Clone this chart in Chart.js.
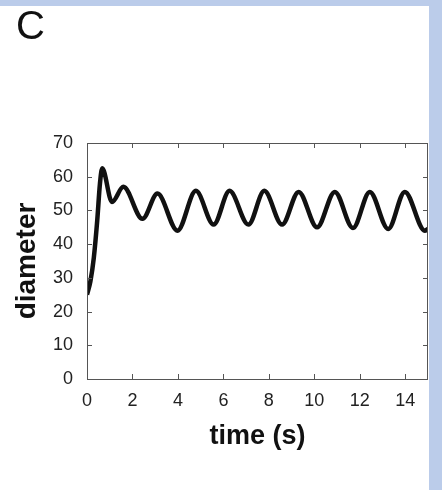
<!DOCTYPE html>
<html>
<head>
<meta charset="utf-8">
<script src="https://cdn.jsdelivr.net/npm/chart.js@4"></script>
<style>
  html, body { margin: 0; padding: 0; background: #ffffff; }
  #wrap { position: relative; width: 442px; height: 490px; background: #ffffff; overflow: hidden; }
  #topband { position: absolute; left: 0; top: 0; width: 442px; height: 6px; background: rgb(187, 204, 234); }
  #rightband { position: absolute; left: 429px; top: 0; width: 13px; height: 490px; background: rgb(187, 204, 234); }
  #panel { position: absolute; left: 16px; top: 5px; font: 40px "Liberation Sans", Arial, sans-serif; line-height: 1; color: #111; }
  canvas { position: absolute; left: 0; top: 0; }
</style>
</head>
<body>
<div id="wrap">
  <canvas id="c" width="442" height="490"></canvas>
  <div id="topband"></div>
  <div id="rightband"></div>
  <div id="panel">C</div>
</div>
<script>
// Data
const times = [0, 0.15, 0.3, 0.45, 0.57, 0.67, 1.1, 1.6, 2.44, 3.1, 3.98, 4.79, 5.57, 6.27, 7.1, 7.8, 8.58, 9.31, 10.12, 10.9, 11.7, 12.44, 13.25, 13.98, 14.86, 15];
const diameter = [25, 29, 36, 47, 58, 62.5, 52.5, 57, 47.5, 55, 44, 55.8, 45.8, 55.8, 45.8, 55.8, 45.8, 55.5, 45, 55.5, 44.8, 55.5, 44.5, 55.5, 44, 44.5];
const xTicks = [0, 2, 4, 6, 8, 10, 12, 14];
const yTicks = [0, 10, 20, 30, 40, 50, 60, 70];
const xTitle = 'time (s)';
const yTitle = 'diameter';

const points = times.map((t, i) => ({ x: t, y: diameter[i] }));

const frameTicks = {
  id: 'frameTicks',
  afterDraw(chart) {
    const { ctx, chartArea: a, scales: { x, y } } = chart;
    ctx.save();
    ctx.strokeStyle = '#555';
    ctx.lineWidth = 1;
    ctx.beginPath();
    ctx.rect(Math.round(a.left) + 0.5, Math.round(a.top) + 0.5, Math.round(a.right - a.left) - 1, Math.round(a.bottom - a.top));
    ctx.stroke();
    const L = 5;
    ctx.beginPath();
    xTicks.forEach(v => {
      const px = Math.round(x.getPixelForValue(v)) + 0.5;
      ctx.moveTo(px, a.bottom); ctx.lineTo(px, a.bottom - L);
      ctx.moveTo(px, a.top); ctx.lineTo(px, a.top + L);
    });
    yTicks.forEach(v => {
      const py = Math.round(y.getPixelForValue(v)) + 0.5;
      ctx.moveTo(a.left, py); ctx.lineTo(a.left + L, py);
      ctx.moveTo(a.right, py); ctx.lineTo(a.right - L, py);
    });
    ctx.stroke();
    ctx.restore();
  }
};

new Chart(document.getElementById('c'), {
  type: 'scatter',
  data: {
    datasets: [{
      data: points,
      showLine: true,
      borderColor: '#111',
      borderWidth: 4.5,
      pointRadius: 0,
      cubicInterpolationMode: 'monotone',
      fill: false
    }]
  },
  options: {
    responsive: false,
    animation: false,
    devicePixelRatio: 1,
    layout: { padding: { left: 0, top: 143, right: 14, bottom: 0 } },
    plugins: { legend: { display: false }, tooltip: { enabled: false } },
    scales: {
      x: {
        type: 'linear',
        min: 0, max: 15,
        afterFit(s) { s.height = 111; },
        afterBuildTicks(s) { s.ticks = xTicks.map(v => ({ value: v })); },
        grid: { display: false, drawTicks: false },
        border: { display: false },
        ticks: { padding: 11, color: '#222', font: { family: 'Liberation Sans', size: 18 }, maxRotation: 0 },
        title: { display: true, text: xTitle, color: '#111', padding: { top: 0, bottom: 37 }, font: { family: 'Liberation Sans', size: 27, weight: 'bold' } }
      },
      y: {
        type: 'linear',
        min: 0, max: 70,
        afterFit(s) { s.width = 87; },
        afterBuildTicks(s) { s.ticks = yTicks.map(v => ({ value: v })); },
        grid: { display: false, drawTicks: false },
        border: { display: false },
        ticks: { padding: 14, color: '#222', font: { family: 'Liberation Sans', size: 18 } },
        title: { display: true, text: yTitle, color: '#111', padding: { top: 10, bottom: 0 }, font: { family: 'Liberation Sans', size: 28, weight: 'bold' } }
      }
    }
  },
  plugins: [frameTicks]
});
</script>
</body>
</html>
